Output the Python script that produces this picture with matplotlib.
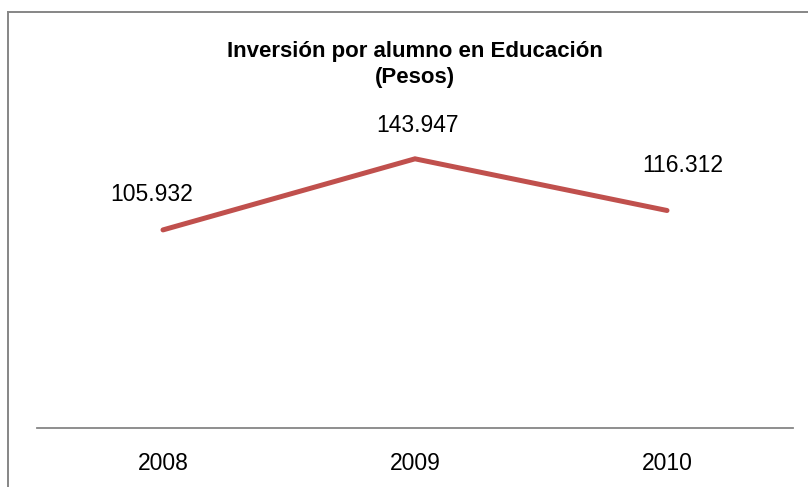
import matplotlib
matplotlib.use("Agg")
import matplotlib.pyplot as plt
from matplotlib.lines import Line2D

plt.rcParams['font.family'] = ['Liberation Sans', 'DejaVu Sans']

years = ["2008", "2009", "2010"]
values = [105.932, 143.947, 116.312]
value_labels = ["105.932", "143.947", "116.312"]
title = "Inversión por alumno en Educación\n(Pesos)"

label_offsets = [(-11, 35), (3, 33), (16, 45)]  # pixel offsets of data labels

W, H = 808, 487
fig = plt.figure(figsize=(W / 100, H / 100), dpi=100)
ax = fig.add_axes([37 / W, 59 / H, 756 / W, 374 / H])

x = list(range(len(years)))
ax.plot(x, values, color="#C0504D", lw=3.6, solid_capstyle="round", solid_joinstyle="miter")
ax.set_xlim(-0.5, len(years) - 0.5)
ax.set_ylim(0, 200)

for xi, v, lab, (dx, dy) in zip(x, values, value_labels, label_offsets):
    ax.annotate(lab, (xi, v), xytext=(dx * 0.72, dy * 0.72), textcoords="offset points",
                ha="center", va="center", fontsize=16.5, color="black")

ax.set_xticks(x)
ax.set_xticklabels(years, fontsize=16.5)
ax.tick_params(axis="x", length=0, pad=17)
ax.set_yticks([])
for s in ["left", "right", "top"]:
    ax.spines[s].set_visible(False)
ax.spines["bottom"].set_color("#868686")
ax.spines["bottom"].set_linewidth(1.3)

fig.text(415 / W, 1 - 64.5 / H, title, ha="center", va="center", fontsize=16,
         fontweight="bold", linespacing=1.34)

# chart border (top and left visible)
fig.add_artist(Line2D([7.5 / W, 1.0], [1 - 11.5 / H, 1 - 11.5 / H], transform=fig.transFigure,
                      color="#868686", lw=1.4))
fig.add_artist(Line2D([7.5 / W, 7.5 / W], [0, 1 - 11.5 / H], transform=fig.transFigure,
                      color="#868686", lw=1.4))

fig.savefig("out.png", dpi=100)
